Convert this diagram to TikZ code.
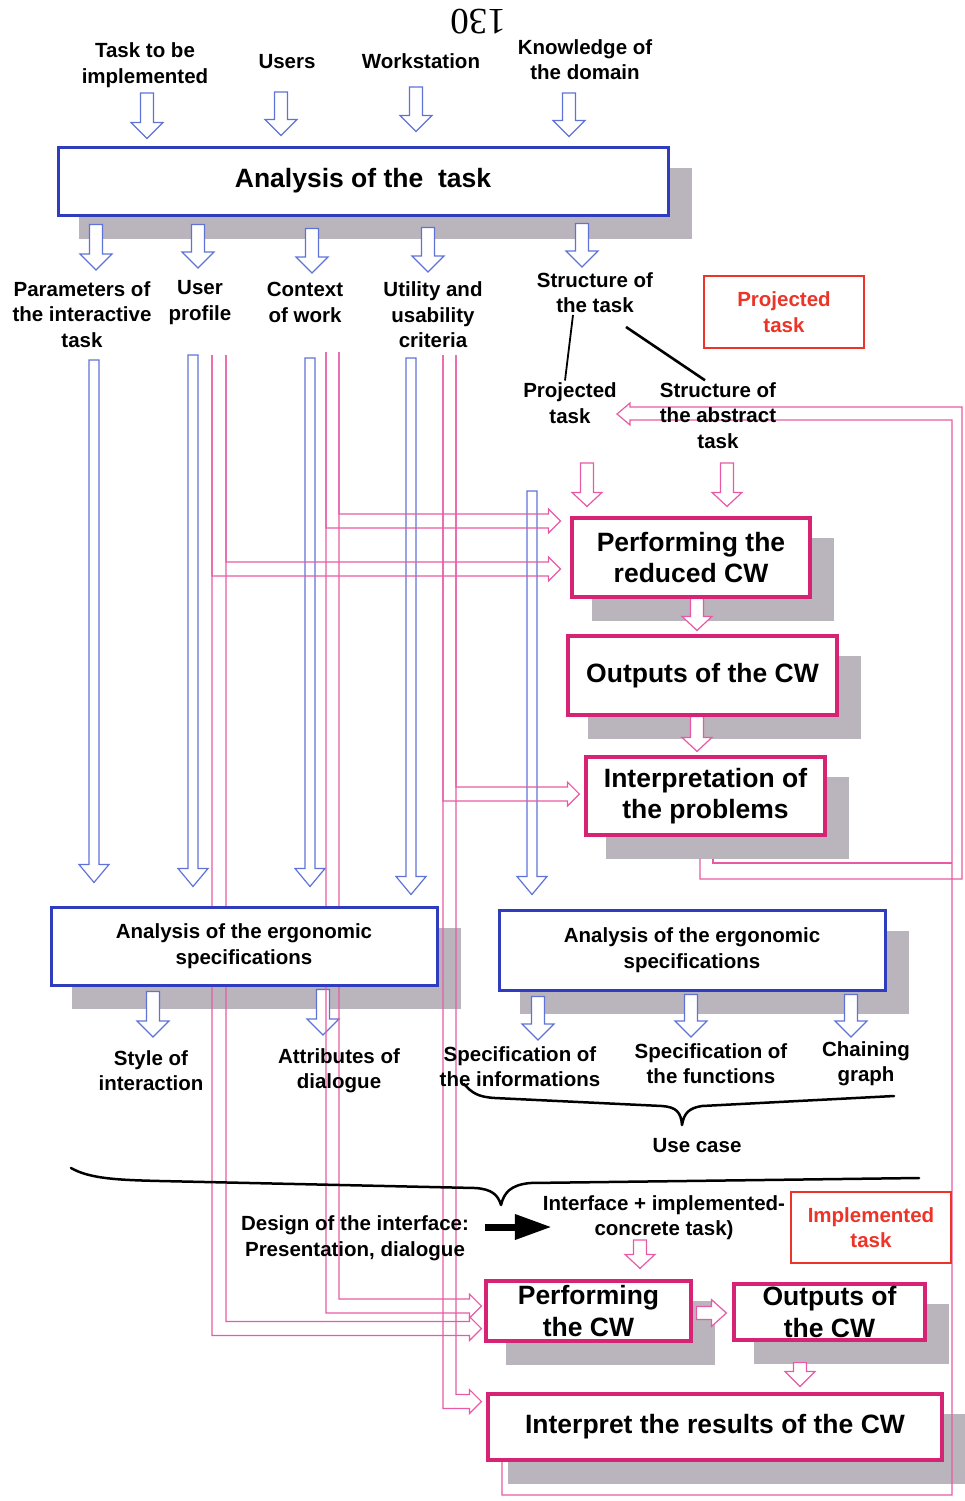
\documentclass[tikz,border=0pt]{standalone}
\usepackage{fontspec}
\setmainfont{Liberation Sans}
\newfontfamily\numberfont{Liberation Serif}
\usetikzlibrary{calc,arrows.meta}

\definecolor{boxblue}{RGB}{48,60,190}
\definecolor{wireblue}{RGB}{95,115,215}
\definecolor{boxpink}{RGB}{215,35,115}
\definecolor{wirepink}{RGB}{232,90,165}
\definecolor{notered}{RGB}{236,52,40}
\definecolor{shadegrey}{RGB}{186,181,189}

\pgfdeclarelayer{shadelayer}
\pgfdeclarelayer{wirelayer}
\pgfsetlayers{shadelayer,wirelayer,main}

% straight hollow arrow: style, from, to, half shaft, half head, head length
\newcommand{\hollowarrow}[6]{%
  \coordinate (ha-from) at (#2);
  \coordinate (ha-to) at (#3);
  \coordinate (ha-base) at ($(ha-to)!#6!(ha-from)$);
  \draw[#1] ($(ha-from)!#4!90:(ha-to)$) -- ($(ha-base)!#4!90:(ha-to)$)
    -- ($(ha-base)!#5!90:(ha-to)$) -- (ha-to) -- ($(ha-base)!#5!-90:(ha-to)$)
    -- ($(ha-base)!#4!-90:(ha-to)$) -- ($(ha-from)!#4!-90:(ha-to)$) -- cycle;}

% open double line running down, then turning right into a hollow head
\newcommand{\pinkbranch}[3]{%
  \draw[pinkwire] (#2) |- ($(#3)+(-12,-7)$) -- ($(#3)+(-12,-12)$) -- (#3)
    -- ($(#3)+(-12,12)$) -- ($(#3)+(-12,7)$) -| (#1);}

\begin{document}
\begin{tikzpicture}[x=1pt,y=-1pt,
  lbl/.style={font=\fontsize{20.5}{25.5}\selectfont\bfseries, align=center, inner sep=0pt},
  big/.style={font=\fontsize{26.5}{31.5}\selectfont\bfseries, align=center, inner sep=0pt},
  bluebox/.style={draw=boxblue, line width=3pt, fill=white},
  pinkbox/.style={draw=boxpink, line width=3.2pt, fill=white},
  notebox/.style={lbl, draw=notered, line width=2pt, fill=white, text=notered},
  bluewire/.style={draw=wireblue, line width=1.2pt, fill=white},
  pinkwire/.style={draw=wirepink, line width=1.2pt},
  pinkhollow/.style={draw=wirepink, line width=1.2pt, fill=white},
  brace/.style={draw=black, line width=2.5pt, line cap=round, line join=round}]

\useasboundingbox (0,0) rectangle (964,1501);

% ---------- boxes ----------
\node[bluebox, big, minimum width=610pt, minimum height=68pt] (tA) at (363,181) {Analysis of the\ \ task};
\node[pinkbox, big, minimum width=238pt, minimum height=79pt] (rcw) at (691,557.5) {Performing the\\reduced CW};
\node[pinkbox, big, minimum width=269pt, minimum height=79pt] (ocw) at (702.5,675.5) {Outputs of the CW};
\node[pinkbox, big, minimum width=239pt, minimum height=78pt] (ipr) at (705.5,796) {Interpretation of\\the problems};
\node[bluebox, lbl, minimum width=386pt, minimum height=78pt] (erg1) at (244,946) {Analysis of the ergonomic\\specifications};
\node[bluebox, lbl, minimum width=386pt, minimum height=80pt] (erg2) at (692,950) {Analysis of the ergonomic\\specifications};
\node[pinkbox, big, minimum width=205pt, minimum height=60pt] (pcw) at (588.5,1311) {Performing\\the CW};
\node[pinkbox, big, minimum width=191pt, minimum height=56pt] (ocw2) at (829.5,1312) {Outputs of\\the CW};
\node[pinkbox, big, minimum width=454pt, minimum height=66pt] (irc) at (715,1427) {Interpret the results of the CW};
\node[notebox, minimum width=160pt, minimum height=72pt] (nproj) at (784,312) {Projected\\task};
\node[notebox, minimum width=160pt, minimum height=71pt] (nimpl) at (871,1227.5) {Implemented\\task};

% ---------- labels ----------
\node[rotate=180, font=\numberfont\fontsize{37}{37}\selectfont, inner sep=0pt] (pageno) at (478,22) {130};
\node[lbl] (lTask) at (145,65) {Task to be\\implemented};
\node[lbl] (lUsers) at (287,62) {Users};
\node[lbl] (lWork) at (421,61) {Workstation};
\node[lbl] (lKnow) at (585,59.5) {Knowledge of\\the domain};
\node[lbl] (lParam) at (82,314.5) {Parameters of\\the interactive\\task};
\node[lbl] (lUser) at (200,302.5) {User\\profile};
\node[lbl] (lCtx) at (305,302.5) {Context\\of work};
\node[lbl] (lUtil) at (433,315) {Utility and\\usability\\criteria};
\node[lbl] (lStruct) at (595,292.5) {Structure of\\the task};
\node[lbl] (lProj) at (570,403) {Projected\\task};
\node[lbl] (lAbs) at (718,415.5) {Structure of\\the abstract\\task};
\node[lbl] (lStyle) at (151,1070.5) {Style of\\interaction};
\node[lbl] (lAttr) at (339,1070.5) {Attributes of\\dialogue};
\node[lbl] (lSpecI) at (520,1066.5) {Specification of\\the informations};
\node[lbl] (lSpecF) at (711,1063.5) {Specification of\\the functions};
\node[lbl] (lChain) at (866,1063.5) {Chaining\\graph};
\node[lbl] (lUse) at (697,1146) {Use case};
\node[lbl] (lDesign) at (355,1238) {Design of the interface:\\Presentation, dialogue};
\node[lbl] (lIface) at (664,1217.5) {Interface + implemented-\\concrete task)};

% ---------- shadows ----------
\begin{pgfonlayer}{shadelayer}
\foreach \b in {tA,rcw,ocw,ipr,erg1,erg2,pcw,ocw2,irc}
  \fill[shadegrey] ([shift={(22pt,-22pt)}]\b.south west) rectangle ([shift={(22pt,-22pt)}]\b.north east);
\end{pgfonlayer}

% ---------- connectors ----------
\begin{pgfonlayer}{wirelayer}
% inputs of the task analysis
\coordinate (in1) at (147,93);
\coordinate (in2) at (281,92);
\coordinate (in3) at (416,87);
\coordinate (in4) at (569,93);
\hollowarrow{bluewire}{in1}{$(in1 |- tA.north)+(0,-7)$}{6.5pt}{16pt}{16pt}
\hollowarrow{bluewire}{in2}{$(in2 |- tA.north)+(0,-10)$}{6.5pt}{16pt}{16pt}
\hollowarrow{bluewire}{in3}{$(in3 |- tA.north)+(0,-14)$}{6.5pt}{16pt}{16pt}
\hollowarrow{bluewire}{in4}{$(in4 |- tA.north)+(0,-9)$}{6.5pt}{16pt}{16pt}

% results of the task analysis
\coordinate (out1) at (96,270);
\coordinate (out2) at (198,268);
\coordinate (out3) at (312,273);
\coordinate (out4) at (428,272);
\coordinate (out5) at (582,267);
\hollowarrow{bluewire}{$(out1 |- tA.south)+(0,8)$}{out1}{6.5pt}{16pt}{16pt}
\hollowarrow{bluewire}{$(out2 |- tA.south)+(0,8)$}{out2}{6.5pt}{16pt}{16pt}
\hollowarrow{bluewire}{$(out3 |- tA.south)+(0,12)$}{out3}{6.5pt}{16pt}{16pt}
\hollowarrow{bluewire}{$(out4 |- tA.south)+(0,11)$}{out4}{6.5pt}{16pt}{16pt}
\hollowarrow{bluewire}{$(out5 |- tA.south)+(0,7)$}{out5}{6.5pt}{16pt}{16pt}

% long feeds into the ergonomic analyses
\coordinate (lg1) at (94,360);
\coordinate (lg2) at (193,355);
\coordinate (lg3) at (310,358);
\coordinate (lg4) at (411,358);
\coordinate (lg5) at (532,491);
\hollowarrow{bluewire}{lg1}{$(lg1 |- erg1.north)+(0,-23)$}{5pt}{15pt}{18pt}
\hollowarrow{bluewire}{lg2}{$(lg2 |- erg1.north)+(0,-19)$}{5pt}{15pt}{18pt}
\hollowarrow{bluewire}{lg3}{$(lg3 |- erg1.north)+(0,-19)$}{5pt}{15pt}{18pt}
\hollowarrow{bluewire}{lg4}{$(lg4 |- erg1.north)+(0,-11)$}{5pt}{15pt}{18pt}
\hollowarrow{bluewire}{lg5}{$(lg5 |- erg2.north)+(0,-14)$}{5pt}{15pt}{18pt}

% results of the ergonomic analyses
\coordinate (e1a) at (153,1037);
\coordinate (e1b) at (323,1035);
\coordinate (e2a) at (538,1040);
\coordinate (e2b) at (691,1037);
\coordinate (e2c) at (851,1037);
\hollowarrow{bluewire}{$(e1a |- erg1.south)+(0,5)$}{e1a}{6.5pt}{16pt}{16pt}
\hollowarrow{bluewire}{$(e1b |- erg1.south)+(0,3)$}{e1b}{6.5pt}{16pt}{16pt}
\hollowarrow{bluewire}{$(e2a |- erg2.south)+(0,5)$}{e2a}{6.5pt}{16pt}{16pt}
\hollowarrow{bluewire}{$(e2b |- erg2.south)+(0,3)$}{e2b}{6.5pt}{16pt}{16pt}
\hollowarrow{bluewire}{$(e2c |- erg2.south)+(0,3)$}{e2c}{6.5pt}{16pt}{16pt}

% double pink feeds from user profile, context of work and criteria
\coordinate (pAl) at (212,355);
\coordinate (pAr) at (226,355);
\coordinate (pBl) at (326,352);
\coordinate (pBr) at (339,352);
\coordinate (pCl) at (443,355);
\coordinate (pCr) at (456,355);
\coordinate (tipA1) at ($(rcw.west)+(-10,11.5)$);
\coordinate (tipB1) at ($(rcw.west)+(-10,-36.5)$);
\coordinate (tipC1) at ($(ipr.west)+(-5,-2)$);
\coordinate (tipB2) at ($(pcw.west)+(-3,-5)$);
\coordinate (tipA2) at ($(pcw.west)+(-3,17.5)$);
\coordinate (tipC2) at ($(irc.west)+(-5,-25.5)$);
\pinkbranch{pBl}{pBr}{tipB1}
\pinkbranch{pAl}{pAr}{tipA1}
\pinkbranch{pCl}{pCr}{tipC1}
\pinkbranch{pBl}{pBr}{tipB2}
\pinkbranch{pAl}{pAr}{tipA2}
\pinkbranch{pCl}{pCr}{tipC2}

% pink flow between the walkthrough steps
\coordinate (pj1) at (587,463);
\coordinate (pj2) at (727,463);
\coordinate (flowx) at (697,0);
\coordinate (ifc) at (640,1240);
\coordinate (rx) at (800,0);
\hollowarrow{pinkhollow}{pj1}{$(pj1 |- rcw.north)+(0,-10)$}{6.5pt}{15pt}{14pt}
\hollowarrow{pinkhollow}{pj2}{$(pj2 |- rcw.north)+(0,-10)$}{6.5pt}{15pt}{14pt}
\hollowarrow{pinkhollow}{flowx |- rcw.south}{$(flowx |- ocw.north)+(0,-4)$}{6.5pt}{15pt}{14pt}
\hollowarrow{pinkhollow}{flowx |- ocw.south}{$(flowx |- ipr.north)+(0,-4)$}{6.5pt}{15pt}{14pt}
\hollowarrow{pinkhollow}{ifc}{$(ifc |- pcw.north)+(0,-11)$}{6.5pt}{15pt}{14pt}
\hollowarrow{pinkhollow}{$(pcw.east)+(4,2)$}{$(ocw2.west)+(-6,1)$}{6.5pt}{13.5pt}{15pt}
\hollowarrow{pinkhollow}{$(rx |- ocw2.south)+(0,21)$}{$(rx |- irc.north)+(0,-6)$}{6.5pt}{15pt}{15pt}

% feedback loops back to the projected task
\coordinate (loopOut) at ($(ipr.south)+(-5.5,22)$);
\coordinate (loopIn) at ($(ipr.south)+(7.5,22)$);
\coordinate (loopTip) at (617,414);
\coordinate (railOuterBot) at (962,879);
\coordinate (railInnerMid) at (952,863);
\coordinate (railInnerBot) at (952,1495);
\draw[pinkwire] (loopOut) |- (railOuterBot) |- ($(loopTip)+(13,-7)$) -- ($(loopTip)+(13,-11)$)
  -- (loopTip) -- ($(loopTip)+(13,11)$) -- ($(loopTip)+(13,6)$) -| (railInnerBot)
  -| ($(irc.south)+(-213,0)$);
\draw[pinkwire] (loopIn) |- (railInnerMid);
\end{pgfonlayer}

% task structure links
\draw[line width=1.8pt] ([xshift=-22pt,yshift=-2pt]lStruct.south) -- ([xshift=-5pt,yshift=2pt]lProj.north);
\draw[line width=2.6pt] ([xshift=31pt,yshift=-14pt]lStruct.south) -- ([xshift=-13pt,yshift=2pt]lAbs.north);

% braces
\coordinate (ucL) at (464,1084);
\coordinate (ucTip) at (682,1125);
\coordinate (ucR) at (894,1096);
\draw[brace] (ucL) .. controls (472,1093) and (478,1097) .. (495,1098) -- (662,1106)
  .. controls (676,1107) and (681,1112) .. (ucTip)
  .. controls (684,1113) and (689,1108) .. (702,1106) -- (ucR);
\coordinate (bbL) at (71,1168);
\coordinate (bbTip) at (501,1205);
\coordinate (bbR) at (919,1178);
\draw[brace] (bbL) .. controls (90,1179) and (120,1180) .. (160,1181) -- (475,1188)
  .. controls (492,1189) and (498,1195) .. (bbTip)
  .. controls (504,1193) and (510,1185) .. (530,1183) -- (bbR);

% design leads to the implemented interface
\draw[line width=7pt, -{Triangle[length=37pt,width=24pt]}]
  ($(lDesign.east)+(16,-11)$) -- ($(lIface.west)+(9,9.5)$);

\end{tikzpicture}
\end{document}
